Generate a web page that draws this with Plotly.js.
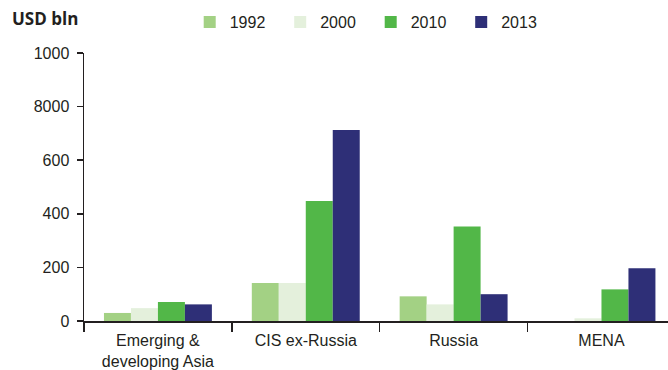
<!DOCTYPE html>
<html>
<head>
<meta charset="utf-8">
<script src="https://cdn.plot.ly/plotly-3.0.1.min.js"></script>
<style>html,body{margin:0;padding:0;background:#fff;}#chart{width:668px;height:370px;}</style>
</head>
<body>
<div id="chart"></div>
<script>
var categories = ['Emerging &<br>developing Asia', 'CIS ex-Russia', 'Russia', 'MENA'];
var years = ['1992', '2000', '2010', '2013'];
var v1992 = [30, 142, 92, 0];
var v2000 = [48, 142, 62, 10];
var v2010 = [71, 448, 353, 118];
var v2013 = [62, 713, 100, 197];
var tickVals = [0, 200, 400, 600, 800, 1000];
var tickText = ['0', '200', '400', '600', '8000', '1000'];
var unitLabel = 'USD bln';

var colors = ['#a3d184', '#e4f0dc', '#52b748', '#2e2f77'];
var series = [v1992, v2000, v2010, v2013];
var ink = '#231f20';

var traces = series.map(function (vals, i) {
  return {
    type: 'bar',
    name: years[i],
    x: categories,
    y: vals,
    marker: {color: colors[i], line: {width: 0}},
    hoverinfo: 'x+y+name'
  };
});

var layout = {
  width: 668,
  height: 370,
  margin: {l: 84, r: 0, t: 53, b: 49, pad: 0},
  paper_bgcolor: '#ffffff',
  plot_bgcolor: '#ffffff',
  font: {family: 'Liberation Sans, Arial, sans-serif', size: 16, color: ink},
  barmode: 'group',
  bargap: 0.27,
  bargroupgap: 0,
  showlegend: true,
  legend: {
    orientation: 'h',
    x: 0.181,
    xanchor: 'left',
    y: 1.1157,
    yanchor: 'middle',
    font: {family: 'Liberation Sans, Arial, sans-serif', size: 16, color: ink},
    bgcolor: 'rgba(0,0,0,0)',
    traceorder: 'normal',
    entrywidth: 45.5,
    entrywidthmode: 'pixels'
  },
  xaxis: {
    type: 'category',
    range: [-0.5, 3.45],
    showline: true,
    linecolor: ink,
    linewidth: 1.5,
    ticks: 'outside',
    tickson: 'boundaries',
    ticklen: 9,
    tickwidth: 1.5,
    tickcolor: ink,
    showgrid: false,
    zeroline: false,
    ticklabelstandoff: 4,
    tickfont: {family: 'Liberation Sans, Arial, sans-serif', size: 16, color: ink}
  },
  yaxis: {
    range: [0, 1000],
    tickvals: tickVals,
    ticktext: tickText,
    showline: true,
    linecolor: ink,
    linewidth: 1.5,
    ticks: 'outside',
    ticklen: 6,
    tickwidth: 1.5,
    tickcolor: ink,
    showgrid: false,
    zeroline: false,
    ticklabelstandoff: 4,
    tickfont: {family: 'Liberation Sans, Arial, sans-serif', size: 16, color: ink}
  },
  annotations: [{
    text: '<b>' + unitLabel + '</b>',
    xref: 'paper', yref: 'paper',
    x: -0.126, y: 1.127,
    xanchor: 'left', yanchor: 'middle',
    showarrow: false,
    font: {family: 'Open Sans, Noto Sans, sans-serif', size: 17, color: ink}
  }]
};

Plotly.newPlot('chart', traces, layout, {displayModeBar: false, staticPlot: true});
</script>
</body>
</html>
